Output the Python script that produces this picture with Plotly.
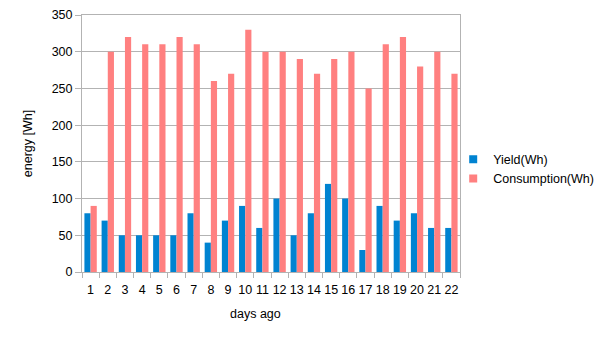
import plotly.graph_objects as go

days = [str(i) for i in range(1, 23)]
yield_wh = [80, 70, 50, 50, 50, 50, 80, 40, 70, 90, 60, 100, 50, 80, 120, 100, 30, 90, 70, 80, 60, 60]
consumption_wh = [90, 300, 320, 310, 310, 320, 310, 260, 270, 330, 300, 300, 290, 270, 290, 300, 250, 310, 320, 280, 300, 270]

BLUE = "#0083d1"
PINK = "#ff8080"
GRID = "#b3b3b3"
FS = 12.5

fig = go.Figure()
fig.add_trace(go.Bar(x=days, y=yield_wh, name="Yield(Wh)", marker=dict(color=BLUE, line=dict(width=0)), showlegend=False))
fig.add_trace(go.Bar(x=days, y=consumption_wh, name="Consumption(Wh)", marker=dict(color=PINK, line=dict(width=0)), showlegend=False))
# legend entries with small square symbols
fig.add_trace(go.Scatter(x=[None], y=[None], mode="markers", name="Yield(Wh)",
                         marker=dict(symbol="square", size=8, color=BLUE)))
fig.add_trace(go.Scatter(x=[None], y=[None], mode="markers", name="Consumption(Wh)",
                         marker=dict(symbol="square", size=8, color=PINK)))

fig.add_annotation(text="days ago", xref="paper", yref="paper", x=0.458, y=-0.165,
                   xanchor="center", yanchor="middle", showarrow=False,
                   font=dict(size=FS))

fig.update_layout(
    width=604, height=340,
    margin=dict(l=82, r=144, t=15, b=68, autoexpand=False),
    paper_bgcolor="white", plot_bgcolor="white",
    font=dict(family="Liberation Sans, Arial, sans-serif", size=FS, color="#000000"),
    barmode="group", bargap=0.28, bargroupgap=0,
    legend=dict(x=0.982, y=0.40, xanchor="left", yanchor="middle",
                font=dict(size=FS), itemwidth=30, tracegroupgap=0,
                bgcolor="rgba(0,0,0,0)"),
    xaxis=dict(
        type="category",
        showline=True, linecolor=GRID, linewidth=1, mirror=True,
        ticks="outside", tickson="boundaries", ticklen=5, tickcolor=GRID,
        showgrid=False, tickfont=dict(size=FS), tickangle=0, ticklabelstandoff=6,
    ),
    yaxis=dict(
        range=[0, 350], dtick=50, title=dict(text="energy [Wh]", standoff=16, font=dict(size=FS)),
        showline=True, linecolor=GRID, linewidth=1, mirror=True,
        ticks="outside", ticklen=6, tickcolor=GRID,
        showgrid=True, gridcolor=GRID, gridwidth=1, zeroline=False,
        tickfont=dict(size=FS),
    ),
)

fig.write_html("out.html")
